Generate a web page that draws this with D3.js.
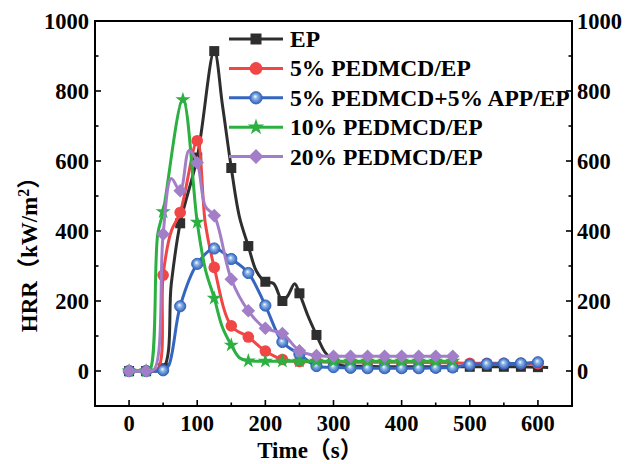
<!DOCTYPE html>
<html><head><meta charset="utf-8">
<script src="https://cdn.jsdelivr.net/npm/d3@7"></script>
<style>body{margin:0;background:#fff}svg{display:block}</style>
</head><body>
<svg id="c" width="627" height="464"></svg>
<script>
// ---- data (time s, HRR kW/m2); mark = 1 where a symbol is drawn ----
const xTicks = [0,100,200,300,400,500,600];
const yTicks = [0,200,400,600,800,1000];
const seriesNames = ["EP","5% PEDMCD/EP","5% PEDMCD+5% APP/EP","10% PEDMCD/EP","20% PEDMCD/EP"];

const epT = [0,25,50,62,75,100,125,137,150,162,175,187,200,212,225,233,243,250,262,275,287,300,312,325,350,375,400,425,450,475,500,525,550,575,600,615];
const epV = [0,0,8,250,422,610,914,760,580,440,357,285,255,250,200,215,249,222,160,103,55,28,16,14,13,12,12,12,12,12,12,12,12,12,11,10];
const epM = [1,1,1,0,1,1,1,0,1,0,1,0,1,0,1,0,0,1,0,1,0,1,0,1,1,1,1,1,1,1,1,1,1,1,1,0];

const redT = [0,25,42,50,62,75,100,112,125,150,175,200,225,250,275,300,325,350,375,400,425,450,475,500,525,550,575,600];
const redV = [0,0,5,274,400,453,658,420,296,129,97,57,33,27,26,25,25,25,25,25,25,24,23,22,22,22,21,21];
const redM = [1,1,0,1,0,1,1,0,1,1,1,1,1,1,1,1,1,1,1,1,1,1,1,1,1,1,1,1];

const blueT = [0,25,50,58,75,100,125,150,175,200,225,250,275,300,325,350,375,400,425,450,475,500,525,550,575,600];
const blueV = [0,0,2,15,185,306,350,320,280,187,83,48,14,11,9,8,8,8,8,9,10,18,20,21,22,25];
const blueM = [1,1,1,0,1,1,1,1,1,1,1,1,1,1,1,1,1,1,1,1,1,1,1,1,1,1];

const greenT = [0,25,31,42,50,79,100,112,125,137,150,162,175,200,225,250,275,300,325,350,375,400,425,450,475];
const greenV = [0,0,5,390,455,775,425,290,208,125,74,38,29,28,28,28,28,28,28,28,28,28,28,28,28];
const greenM = [1,1,0,0,1,1,1,0,1,0,1,0,1,1,1,1,1,1,1,1,1,1,1,1,1];

const purpleT = [0,25,37,50,62,75,88,100,112,125,150,175,200,225,250,275,300,325,350,375,400,425,450,475];
const purpleV = [0,0,5,391,550,515,630,595,470,444,262,172,122,107,58,44,42,42,42,42,42,42,42,42];
const purpleM = [1,1,0,1,0,1,0,1,0,1,1,1,1,1,1,1,1,1,1,1,1,1,1,1];

// ---- layout ----
const svg = d3.select("#c");
const L=95, R=572, T=21, B=406;
const x = d3.scaleLinear().domain([-50,650]).range([L,R]);
const y = d3.scaleLinear().domain([-100,1000]).range([B,T]);
const FONT = "'Liberation Serif','Times New Roman',serif";

const defs = svg.append("defs");
const g1 = defs.append("radialGradient").attr("id","ball").attr("cx","0.5").attr("cy","0.5").attr("r","0.5").attr("fx","0.42").attr("fy","0.38");
g1.append("stop").attr("offset","0").attr("stop-color","#ffffff");
g1.append("stop").attr("offset","0.35").attr("stop-color","#8fb6ea");
g1.append("stop").attr("offset","1").attr("stop-color","#2f62b8");

const series = [
  {name:seriesNames[0], t:epT, v:epV, m:epM, color:"#2e2e2e", sym:"square"},
  {name:seriesNames[1], t:redT, v:redV, m:redM, color:"#f04646", sym:"circle"},
  {name:seriesNames[2], t:blueT, v:blueV, m:blueM, color:"#3566bf", sym:"ball"},
  {name:seriesNames[3], t:greenT, v:greenV, m:greenM, color:"#2bb041", sym:"star"},
  {name:seriesNames[4], t:purpleT, v:purpleV, m:purpleM, color:"#a27ec8", sym:"diamond"}
];

function drawSym(sel, s, cx, cy, k){
  k = k||1;
  if(s.sym==="square"){
    sel.append("rect").attr("x",cx-5*k).attr("y",cy-5*k).attr("width",10*k).attr("height",10*k).attr("fill",s.color);
  } else if(s.sym==="circle"){
    sel.append("circle").attr("cx",cx).attr("cy",cy).attr("r",5.8*k).attr("fill",s.color);
  } else if(s.sym==="ball"){
    sel.append("circle").attr("cx",cx).attr("cy",cy).attr("r",5.6*k).attr("fill","url(#ball)").attr("stroke","#3566bf").attr("stroke-width",1);
  } else if(s.sym==="star"){
    sel.append("path").attr("d",d3.symbol(d3.symbolStar, 70*k*k)()).attr("transform",`translate(${cx},${cy})`).attr("fill",s.color);
  } else if(s.sym==="diamond"){
    sel.append("path").attr("d",`M0,${-6.8*k}L${6.8*k},0L0,${6.8*k}L${-6.8*k},0Z`).attr("transform",`translate(${cx},${cy})`).attr("fill",s.color);
  }
}

const line = d3.line().curve(d3.curveCatmullRom.alpha(0.5));
const plot = svg.append("g");
series.forEach(s=>{
  const pts = s.t.map((t,i)=>[x(t), y(s.v[i])]);
  plot.append("path").attr("d",line(pts)).attr("fill","none").attr("stroke",s.color).attr("stroke-width",3).attr("stroke-linejoin","round");
  const mg = plot.append("g");
  pts.forEach((p,i)=>{ if(s.m[i]) drawSym(mg, s, p[0], p[1], 1); });
});

// ---- frame & axes ----
svg.append("rect").attr("x",L).attr("y",T).attr("width",R-L).attr("height",B-T).attr("fill","none").attr("stroke","#000").attr("stroke-width",2);
const ax = svg.append("g").attr("stroke","#000").attr("stroke-width",1.6);
d3.range(-50,651,50).forEach(v=>{
  if(v<=-50||v>=650) return;
  const len = v%100===0?6:3.5;
  ax.append("line").attr("x1",x(v)).attr("x2",x(v)).attr("y1",B).attr("y2",B-len);
});
d3.range(-100,1001,100).forEach(v=>{
  if(v<=-100||v>=1000) return;
  const len = v%200===0?6:3.5;
  ax.append("line").attr("x1",L).attr("x2",L+len).attr("y1",y(v)).attr("y2",y(v));
  ax.append("line").attr("x1",R).attr("x2",R-len).attr("y1",y(v)).attr("y2",y(v));
});
const lab = svg.append("g").attr("font-family",FONT).attr("font-weight","bold").attr("font-size",22.5).attr("fill","#000");
xTicks.forEach(v=>lab.append("text").attr("x",x(v)).attr("y",431).attr("text-anchor","middle").text(v));
yTicks.forEach(v=>{
  lab.append("text").attr("x",L-6).attr("y",y(v)+7.5).attr("text-anchor","end").text(v);
  lab.append("text").attr("x",R+5).attr("y",y(v)+7.5).attr("text-anchor","start").text(v);
});

// titles
svg.append("text").attr("x",310).attr("y",458).attr("text-anchor","middle")
  .attr("font-family",FONT+",'Noto Sans CJK SC'").attr("font-weight","bold").attr("font-size",23).text("Time（s）");
const yt = svg.append("text").attr("transform","translate(37,249) rotate(-90)").attr("text-anchor","middle")
  .attr("font-family",FONT+",'Noto Sans CJK SC'").attr("font-weight","bold").attr("font-size",23);
yt.append("tspan").text("HRR（kW/m");
yt.append("tspan").attr("font-size",16).attr("dy",-8).text("2");
yt.append("tspan").attr("dy",8).text("）");

// legend
const lg = svg.append("g");
series.forEach((s,i)=>{
  const cy = 39 + i*29.4;
  lg.append("line").attr("x1",229).attr("x2",283).attr("y1",cy).attr("y2",cy).attr("stroke",s.color).attr("stroke-width",3);
  drawSym(lg, s, 256, cy, 1.1);
  lg.append("text").attr("x",290).attr("y",cy+8).attr("font-family",FONT).attr("font-weight","bold").attr("font-size",23.5).text(s.name);
});
</script>
</body></html>
